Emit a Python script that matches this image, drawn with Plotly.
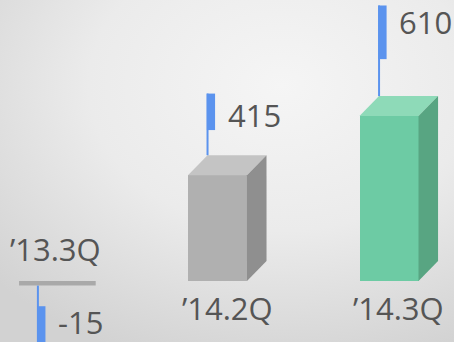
import base64
import plotly.graph_objects as go

categories = ["’13.3Q", "’14.2Q", "’14.3Q"]
values = [-15, 415, 610]
value_labels = ["-15", "415", "610"]

front_colors = ["#a9a9a9", "#b0b0b0", "#6dcba4"]
top_colors = ["#c4c4c4", "#c4c4c4", "#8edab8"]
side_colors = ["#8f8f8f", "#8f8f8f", "#58a582"]
BLUE = "#5b93ee"
TEXT = "#555555"

W, H = 454, 342
# axis geometry (data units)
XR = [-0.268, 2.379]
YR = [-201, 927]
HW = 0.172   # half width of the front face
DX = 0.114   # depth offset in x
DY = 66      # depth offset in y

fig = go.Figure()

for i, v in enumerate(values):
    c = i
    if v >= 0:
        ft = v - DY
        # front face
        fig.add_trace(go.Bar(x=[c], y=[ft], width=[2 * HW], marker=dict(color=front_colors[i], line=dict(width=0)),
                             hoverinfo="skip", showlegend=False))
        # top face
        fig.add_trace(go.Scatter(x=[c - HW, c - HW + DX, c + HW + DX, c + HW, c - HW],
                                 y=[ft, v, v, ft, ft], fill="toself", mode="lines",
                                 line=dict(width=0), fillcolor=top_colors[i], hoverinfo="skip", showlegend=False))
        # side face
        fig.add_trace(go.Scatter(x=[c + HW, c + HW + DX, c + HW + DX, c + HW, c + HW],
                                 y=[ft, v, DY, 0, ft], fill="toself", mode="lines",
                                 line=dict(width=0), fillcolor=side_colors[i], hoverinfo="skip", showlegend=False))
        lx = c - HW + DX
        line_y = [v, 1.49 * v]
        flag_y = [1.2 * v, 1.49 * v]
        lab_y = 1.49 * v
        lab_shift = 2 if v < 500 else 6
        cat_anchor = "top"
        cat_shift = -4
    else:
        x0, x1 = c - HW + 0.015, c + HW + DX + 0.004
        fig.add_trace(go.Scatter(x=[x0, x1, x1, x0, x0],
                                 y=[0, 0, v, v, 0], fill="toself", mode="lines",
                                 line=dict(width=0), fillcolor=front_colors[i], hoverinfo="skip", showlegend=False))
        lx = c - 0.047
        line_y = [v, YR[0]]
        flag_y = [v - 68, YR[0]]
        lab_y = v - 68
        lab_shift = 7
        cat_anchor = "bottom"
        cat_shift = 9
    # thin callout line
    fig.add_trace(go.Scatter(x=[lx, lx], y=line_y, mode="lines", line=dict(color=BLUE, width=2),
                             hoverinfo="skip", showlegend=False))
    # flag
    fw = 0.044
    fig.add_trace(go.Scatter(x=[lx - 0.004, lx + fw, lx + fw, lx - 0.004, lx - 0.004],
                             y=[flag_y[0], flag_y[0], flag_y[1], flag_y[1], flag_y[0]],
                             fill="toself", mode="lines", line=dict(width=0), fillcolor=BLUE,
                             hoverinfo="skip", showlegend=False))
    fig.add_annotation(x=lx, y=lab_y, xref="x", yref="y", text=value_labels[i], showarrow=False,
                       xanchor="left", yanchor="top", xshift=18, yshift=lab_shift,
                       font=dict(family="Open Sans", size=31, color=TEXT))
    fig.add_annotation(x=c + DX / 2, y=0, xref="x", yref="y", text=categories[i], showarrow=False,
                       xanchor="center", yanchor=cat_anchor, yshift=cat_shift,
                       font=dict(family="Open Sans", size=31, color=TEXT))

svg = f'''<svg xmlns="http://www.w3.org/2000/svg" width="{W}" height="{H}" viewBox="0 0 {W} {H}">
<defs><radialGradient id="g" cx="0.62" cy="0.25" r="0.85">
<stop offset="0" stop-color="#f5f5f5"/><stop offset="0.5" stop-color="#ebebeb"/><stop offset="1" stop-color="#d2d2d2"/>
</radialGradient></defs><rect width="{W}" height="{H}" fill="url(#g)"/></svg>'''
uri = "data:image/svg+xml;base64," + base64.b64encode(svg.encode()).decode()

fig.update_layout(
    width=W, height=H, margin=dict(l=0, r=0, t=0, b=0),
    paper_bgcolor="#e8e8e8", plot_bgcolor="rgba(0,0,0,0)",
    xaxis=dict(range=XR, visible=False, fixedrange=True),
    yaxis=dict(range=YR, visible=False, fixedrange=True),
    images=[dict(source=uri, xref="paper", yref="paper", x=0, y=1, sizex=1, sizey=1,
                 sizing="stretch", layer="below", xanchor="left", yanchor="top")],
    bargap=0,
)

fig.write_html("out.html")
